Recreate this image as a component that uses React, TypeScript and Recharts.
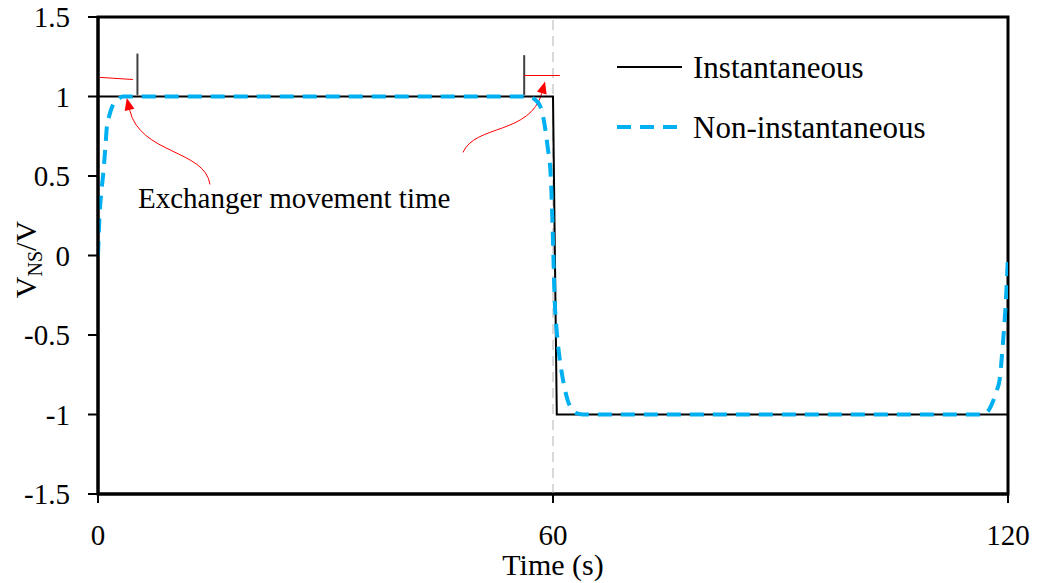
import React from "react";
import {
  LineChart,
  Line,
  XAxis,
  YAxis,
  ReferenceLine,
  ReferenceArea,
  ReferenceDot,
  Legend,
} from "recharts";

const FONT = "'Liberation Serif', 'Times New Roman', serif";
const BLUE = "#00B0F0";

// Ideal (instantaneous) switching of the normalised voltage
const instTime = [0, 0, 60, 60.5, 120, 120];
const instValue = [0, 1, 1, -1, -1, 0];

// Switching with a finite exchanger movement time
const nonInstTime = [
  0, 0.2, 0.4, 0.7, 1.0, 1.15, 1.5, 2.0, 2.6, 3.3,
  56.5, 57.5, 58.3, 58.9, 59.3, 59.7, 59.9, 60.05, 60.2, 60.5, 60.8, 61.2, 61.6, 62.0, 62.6, 63.3, 64.0,
  116.5, 117.0, 117.5, 118.0, 118.5, 118.9, 119.3, 119.7, 120,
];
const nonInstValue = [
  0, 0.25, 0.38, 0.52, 0.7, 0.8, 0.88, 0.95, 0.98, 1.0,
  1.0, 0.985, 0.94, 0.82, 0.68, 0.5, 0.25, 0, -0.25, -0.48, -0.62, -0.75, -0.85, -0.92, -0.97, -0.995, -1,
  -1, -0.995, -0.97, -0.92, -0.85, -0.78, -0.57, -0.3, 0,
];

const xTicks = [0, 60, 120];
const yTicks = [-1.5, -1, -0.5, 0, 0.5, 1, 1.5];

const instData = instTime.map((t, i) => ({ t, v: instValue[i] }));
const nonInstData = nonInstTime.map((t, i) => ({ t, v: nonInstValue[i] }));

type Pt = { t: number; v: number };

// Curved red arrow: the reference segment gives the pixel positions of its two ends,
// which fix the linear data->pixel mapping used for the bezier control points.
const curvedArrow = (from: Pt, c1: Pt, c2: Pt, to: Pt) => (p: any) => {
  const sx = (p.x2 - p.x1) / (to.t - from.t);
  const sy = (p.y2 - p.y1) / (to.v - from.v);
  const px = (q: Pt) => [p.x1 + (q.t - from.t) * sx, p.y1 + (q.v - from.v) * sy];
  const [ax, ay] = px(from);
  const [b1x, b1y] = px(c1);
  const [b2x, b2y] = px(c2);
  const [tx, ty] = px(to);
  const dx = tx - b2x;
  const dy = ty - b2y;
  const len = Math.hypot(dx, dy) || 1;
  const ux = dx / len;
  const uy = dy / len;
  const L = 12;
  const W = 5;
  const bx = tx - ux * L;
  const by = ty - uy * L;
  return (
    <g>
      <path
        d={`M${ax},${ay} C${b1x},${b1y} ${b2x},${b2y} ${bx},${by}`}
        fill="none"
        stroke="#ff0000"
        strokeWidth={1}
      />
      <polygon
        points={`${tx},${ty} ${bx - uy * W},${by + ux * W} ${bx + uy * W},${by - ux * W}`}
        fill="#ff0000"
      />
    </g>
  );
};

const leftArrow = curvedArrow(
  { t: 14.77, v: 0.447 },
  { t: 14.1, v: 0.667 },
  { t: 5.54, v: 0.635 },
  { t: 3.8, v: 0.99 }
);
const rightArrow = curvedArrow(
  { t: 48.13, v: 0.648 },
  { t: 49.7, v: 0.824 },
  { t: 57.0, v: 0.76 },
  { t: 58.95, v: 1.094 }
);

const YLabel = (props: any) => {
  const vb = props.viewBox || { x: 0, y: 17, width: 98, height: 477 };
  const x = vb.x + 36;
  const y = vb.y + vb.height / 2 + 4;
  return (
    <text
      x={x}
      y={y}
      transform={`rotate(-90, ${x}, ${y})`}
      textAnchor="middle"
      fontFamily={FONT}
      fontSize={30}
      fill="#000"
    >
      V
      <tspan fontSize={20} dy={6}>
        NS
      </tspan>
      <tspan dy={-6}>/V</tspan>
    </text>
  );
};

const LegendBox = () => (
  <div style={{ fontFamily: FONT, fontSize: 31, color: "#000", lineHeight: "31px" }}>
    <div style={{ display: "flex", alignItems: "center", height: 60 }}>
      <svg width={65} height={10}>
        <line x1={0} y1={5} x2={65} y2={5} stroke="#000" strokeWidth={2} />
      </svg>
      <span style={{ marginLeft: 11 }}>Instantaneous</span>
    </div>
    <div style={{ display: "flex", alignItems: "center", height: 60 }}>
      <svg width={65} height={10}>
        <line x1={0} y1={5} x2={60} y2={5} stroke={BLUE} strokeWidth={4} strokeDasharray="14 9" />
      </svg>
      <span style={{ marginLeft: 11 }}>Non-instantaneous</span>
    </div>
  </div>
);

const tickStyle = { fontFamily: FONT, fontSize: 29, fill: "#000" };

export default function App() {
  return (
    <div style={{ position: "absolute", left: 0, top: 0, background: "#fff" }}>
      <LineChart
        width={1037}
        height={583}
        margin={{ top: 17, right: 29, bottom: 0, left: 0 }}
      >
        <XAxis
          dataKey="t"
          type="number"
          domain={[0, 120]}
          ticks={xTicks}
          allowDataOverflow
          height={89}
          tick={tickStyle}
          tickSize={9}
          tickMargin={21}
          axisLine={{ stroke: "#000", strokeWidth: 3 }}
          tickLine={{ stroke: "#000", strokeWidth: 2 }}
          label={{
            value: "Time (s)",
            position: "insideBottom",
            offset: 8,
            style: { fontFamily: FONT, fontSize: 30, fill: "#000" },
          }}
        />
        <YAxis
          dataKey="v"
          type="number"
          domain={[-1.5, 1.5]}
          ticks={yTicks}
          allowDataOverflow
          width={98}
          tick={tickStyle}
          tickSize={10}
          tickMargin={18}
          axisLine={{ stroke: "#000", strokeWidth: 3 }}
          tickLine={{ stroke: "#000", strokeWidth: 2 }}
          label={{ content: YLabel }}
        />
        <ReferenceLine x={60} stroke="#d9d9d9" strokeWidth={2} strokeDasharray="10 6" />
        <ReferenceArea
          x1={0}
          x2={120}
          y1={-1.5}
          y2={1.5}
          fill="none"
          fillOpacity={0}
          stroke="#000"
          strokeWidth={3}
        />

        {/* exchanger movement markers */}
        <ReferenceLine
          segment={[{ x: 5.2, y: 1.01 }, { x: 5.2, y: 1.27 }]}
          stroke="#404040"
          strokeWidth={2}
        />
        <ReferenceLine
          segment={[{ x: 56.2, y: 1.01 }, { x: 56.2, y: 1.26 }]}
          stroke="#404040"
          strokeWidth={2}
        />
        <ReferenceLine
          segment={[{ x: 0.26, y: 1.12 }, { x: 4.6, y: 1.107 }]}
          stroke="#ff0000"
          strokeWidth={1}
        />
        <ReferenceLine
          segment={[{ x: 56.2, y: 1.132 }, { x: 60.9, y: 1.132 }]}
          stroke="#ff0000"
          strokeWidth={1}
        />
        <ReferenceLine
          segment={[{ x: 14.77, y: 0.447 }, { x: 3.8, y: 0.99 }]}
          shape={leftArrow}
        />
        <ReferenceLine
          segment={[{ x: 48.13, y: 0.648 }, { x: 58.95, y: 1.094 }]}
          shape={rightArrow}
        />
        <ReferenceDot
          x={5.27}
          y={0.3}
          r={0}
          shape={(p: any) => (
            <text x={p.cx} y={p.cy} fontFamily={FONT} fontSize={29} fill="#000">
              Exchanger movement time
            </text>
          )}
        />

        <Line
          data={instData}
          dataKey="v"
          name="Instantaneous"
          type="linear"
          stroke="#000"
          strokeWidth={2}
          dot={false}
          activeDot={false}
          isAnimationActive={false}
        />
        <Line
          data={nonInstData}
          dataKey="v"
          name="Non-instantaneous"
          type="monotone"
          stroke={BLUE}
          strokeWidth={4}
          strokeDasharray="14 9"
          dot={false}
          activeDot={false}
          isAnimationActive={false}
        />
        <Legend
          layout="vertical"
          align="center"
          verticalAlign="middle"
          content={LegendBox}
          wrapperStyle={{ top: 37, left: 617, right: "auto", bottom: "auto", width: 380 }}
        />
      </LineChart>
    </div>
  );
}
